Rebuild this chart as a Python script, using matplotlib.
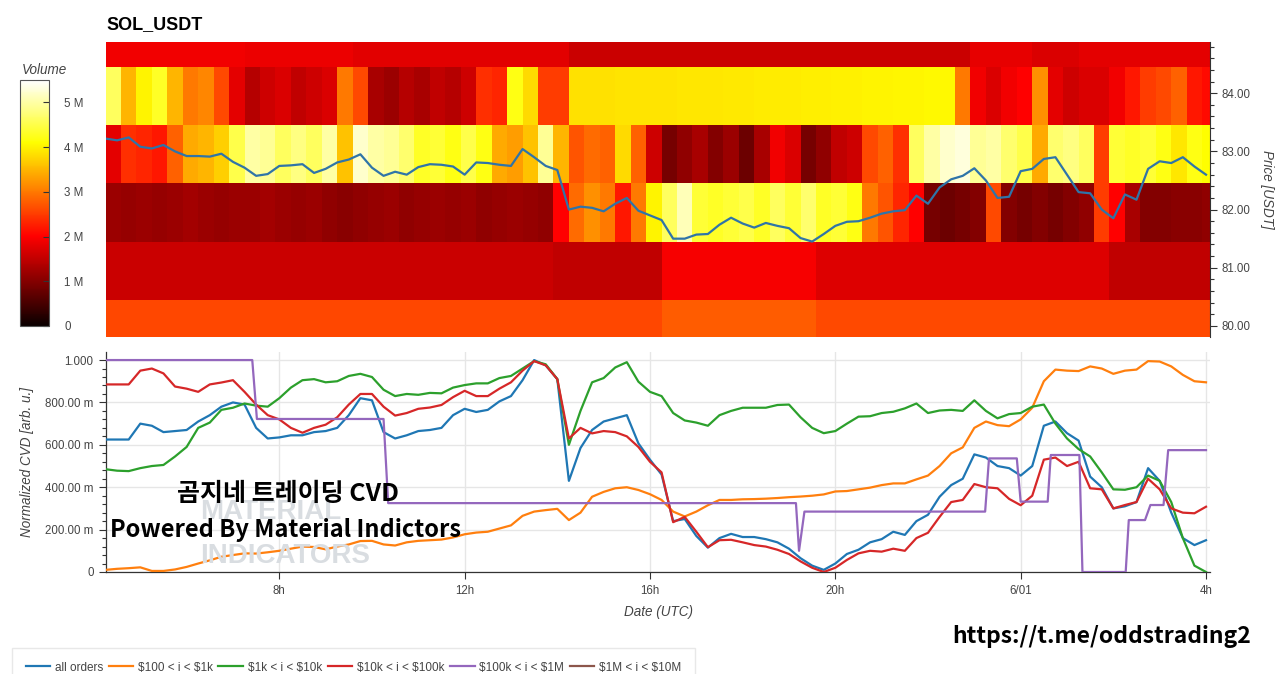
import numpy as np
import pandas as pd
import matplotlib
matplotlib.use("Agg")
import matplotlib.pyplot as plt
import matplotlib.dates as mdates
from matplotlib.ticker import FixedLocator, MultipleLocator

# ---------------- data ----------------
title = "SOL_USDT"
start_time = "2024-05-31 04:15"
view_start = "2024-05-31 04:15:36"
view_end = "2024-06-01 04:05:10"

# heatmap: price levels (USDT) and volume (millions) per 20-minute column
price_levels = [79.95, 80.95, 81.95, 82.95, 83.95, 84.95]
vol_7995 = [2.58] * 36 + [2.75] * 10 + [2.6] * 26
vol_8095 = [1.57] * 29 + [1.5] * 7 + [1.95] * 10 + [1.72] * 19 + [1.5] * 7
vol_8195 = [1.2, 1.15, 1.2, 1.15, 1.2, 1.25, 1.2, 1.15, 1.2, 1.2, 1.25, 1.2, 1.15, 1.2, 1.1,
            1.05, 1.1, 1.15, 1.2, 1.1, 1.15, 1.2, 1.15, 1.2, 1.1, 1.15, 1.2, 1.15, 1.1,
            2.0, 2.9, 3.2, 3.0, 2.2, 3.0, 4.0, 4.6, 5.1, 4.4, 4.3, 4.4, 4.5, 4.3, 4.6, 4.4,
            4.7, 4.3, 4.4, 4.2, 3.0, 2.7, 2.3, 2.0, 0.9, 0.8, 0.9, 1.0, 2.6, 1.0, 0.9, 1.0,
            0.9, 1.0, 1.1, 2.5, 2.0, 1.3, 1.0, 1.0, 1.05, 1.05, 1.1]
vol_8295 = [1.8, 2.4, 2.3, 2.2, 2.8, 3.4, 3.5, 3.7, 4.5, 5.0, 4.9, 4.6, 4.8, 4.6, 5.0,
            3.6, 5.2, 5.0, 4.9, 4.7, 4.3, 4.4, 4.2, 4.5, 4.2, 3.4, 3.3, 3.6, 4.9, 3.5,
            2.7, 2.9, 2.8, 3.8, 2.8, 1.6, 0.9, 1.1, 1.3, 1.0, 1.2, 0.8, 1.3, 1.9, 1.7,
            0.9, 1.1, 1.5, 1.6, 2.6, 2.8, 2.4, 4.6, 5.0, 5.2, 5.3, 4.9, 5.0, 4.7, 4.5,
            3.4, 4.7, 4.8, 4.6, 2.5, 4.4, 4.3, 4.4, 4.2, 3.9, 4.2, 4.1]
vol_8395 = [4.6, 3.5, 4.0, 4.3, 3.5, 3.0, 3.1, 2.6, 1.8, 1.4, 1.6, 1.7, 1.5, 1.6, 1.7,
            3.0, 2.6, 1.3, 1.2, 1.4, 1.3, 1.5, 1.4, 1.6, 2.4, 2.3, 4.2, 3.8, 2.5, 2.5,
            3.85, 3.85, 3.85, 3.87, 3.87, 3.88, 3.88, 3.9, 3.9, 3.9, 3.92, 3.92, 3.94,
            3.94, 3.95, 3.96, 3.97, 3.98, 3.99, 4.0, 4.0, 4.02, 4.03, 4.04, 4.05, 3.0,
            1.9, 1.7, 1.9, 2.0, 3.2, 1.8, 1.6, 1.7, 1.7, 1.9, 2.2, 2.5, 2.6, 2.8, 2.2, 2.1]
vol_8495 = [1.9] * 9 + [1.85] * 7 + [1.78] * 14 + [1.58] * 26 + [1.82] * 4 + [1.7] * 3 + [1.8] * 9

# price line (USDT), every 15 minutes
price = [83.22, 83.19, 83.24, 83.08, 83.05, 83.11, 83.00, 82.92, 82.92, 82.91, 82.96, 82.82,
         82.72, 82.58, 82.61, 82.75, 82.76, 82.78, 82.63, 82.70, 82.81, 82.86, 82.95, 82.72,
         82.58, 82.65, 82.60, 82.73, 82.78, 82.77, 82.74, 82.60, 82.81, 82.80, 82.77, 82.75,
         83.04, 82.90, 82.75, 82.68, 82.00, 82.05, 82.03, 81.97, 82.10, 82.20, 81.98, 81.90,
         81.82, 81.50, 81.50, 81.57, 81.58, 81.74, 81.86, 81.76, 81.69, 81.77, 81.72, 81.68,
         81.51, 81.45, 81.58, 81.72, 81.79, 81.80, 81.86, 81.93, 81.97, 81.99, 82.24, 82.10,
         82.38, 82.52, 82.58, 82.71, 82.50, 82.20, 82.22, 82.66, 82.70, 82.87, 82.90, 82.60,
         82.30, 82.28, 82.00, 81.85, 82.26, 82.17, 82.70, 82.83, 82.80, 82.90, 82.74, 82.60]

# normalized CVD, every 15 minutes
cvd_all = [0.625, 0.625, 0.625, 0.70, 0.69, 0.66, 0.665, 0.67, 0.71, 0.74, 0.78, 0.80,
           0.79, 0.68, 0.63, 0.635, 0.645, 0.645, 0.66, 0.665, 0.68, 0.74, 0.82, 0.81,
           0.66, 0.63, 0.645, 0.665, 0.67, 0.68, 0.74, 0.77, 0.755, 0.765, 0.805, 0.83,
           0.905, 1.0, 0.975, 0.91, 0.43, 0.585, 0.67, 0.71, 0.725, 0.74, 0.607, 0.53,
           0.46, 0.24, 0.25, 0.17, 0.115, 0.16, 0.18, 0.165, 0.165, 0.155, 0.14, 0.11,
           0.065, 0.03, 0.01, 0.04, 0.085, 0.105, 0.14, 0.155, 0.19, 0.175, 0.24, 0.27,
           0.355, 0.41, 0.44, 0.555, 0.54, 0.50, 0.49, 0.455, 0.50, 0.69, 0.71, 0.655,
           0.62, 0.45, 0.40, 0.30, 0.31, 0.33, 0.49, 0.43, 0.28, 0.16, 0.127, 0.15]
cvd_100_1k = [0.01, 0.015, 0.018, 0.022, 0.005, 0.005, 0.012, 0.024, 0.04, 0.055, 0.072, 0.08,
              0.088, 0.087, 0.093, 0.10, 0.11, 0.12, 0.118, 0.107, 0.12, 0.13, 0.146, 0.147,
              0.13, 0.125, 0.14, 0.147, 0.15, 0.153, 0.163, 0.178, 0.186, 0.19, 0.205, 0.22,
              0.265, 0.285, 0.292, 0.298, 0.245, 0.28, 0.355, 0.378, 0.395, 0.40, 0.387, 0.367,
              0.34, 0.285, 0.262, 0.285, 0.315, 0.34, 0.34, 0.343, 0.344, 0.346, 0.349, 0.353,
              0.356, 0.36, 0.366, 0.38, 0.382, 0.39, 0.398, 0.41, 0.418, 0.418, 0.437, 0.455,
              0.50, 0.56, 0.588, 0.68, 0.71, 0.693, 0.688, 0.72, 0.775, 0.90, 0.955, 0.95,
              0.948, 0.97, 0.96, 0.935, 0.95, 0.955, 0.995, 0.993, 0.97, 0.93, 0.90, 0.895]
cvd_1k_10k = [0.485, 0.478, 0.476, 0.49, 0.50, 0.505, 0.545, 0.59, 0.68, 0.705, 0.765, 0.775,
              0.795, 0.785, 0.78, 0.82, 0.87, 0.905, 0.91, 0.895, 0.90, 0.925, 0.935, 0.92,
              0.86, 0.83, 0.84, 0.836, 0.845, 0.843, 0.87, 0.882, 0.89, 0.89, 0.915, 0.925,
              0.96, 0.995, 0.98, 0.91, 0.60, 0.76, 0.895, 0.915, 0.965, 0.99, 0.898, 0.85,
              0.83, 0.75, 0.715, 0.705, 0.69, 0.74, 0.76, 0.775, 0.775, 0.775, 0.788, 0.79,
              0.73, 0.68, 0.655, 0.665, 0.70, 0.733, 0.735, 0.75, 0.756, 0.772, 0.795, 0.75,
              0.762, 0.765, 0.76, 0.81, 0.76, 0.725, 0.745, 0.75, 0.78, 0.79, 0.70, 0.63,
              0.58, 0.545, 0.47, 0.39, 0.388, 0.40, 0.455, 0.43, 0.33, 0.16, 0.03, 0.0]
cvd_10k_100k = [0.885, 0.885, 0.885, 0.95, 0.96, 0.937, 0.875, 0.865, 0.85, 0.885, 0.894, 0.905,
                0.85, 0.79, 0.74, 0.72, 0.68, 0.657, 0.68, 0.695, 0.73, 0.79, 0.84, 0.84,
                0.78, 0.738, 0.75, 0.77, 0.776, 0.788, 0.825, 0.855, 0.83, 0.83, 0.865, 0.895,
                0.95, 0.995, 0.975, 0.91, 0.63, 0.68, 0.654, 0.665, 0.66, 0.64, 0.59, 0.52,
                0.47, 0.235, 0.26, 0.19, 0.117, 0.15, 0.152, 0.14, 0.127, 0.12, 0.105, 0.085,
                0.05, 0.02, 0.0, 0.02, 0.057, 0.088, 0.10, 0.096, 0.11, 0.10, 0.16, 0.185,
                0.26, 0.33, 0.34, 0.415, 0.40, 0.395, 0.345, 0.315, 0.36, 0.53, 0.54, 0.50,
                0.52, 0.395, 0.39, 0.30, 0.316, 0.33, 0.44, 0.39, 0.30, 0.28, 0.277, 0.308]
# $100k < i < $1M is a step series: change-point times and values
cvd_100k_1m_times = ["2024-05-31 04:15", "2024-05-31 07:25", "2024-05-31 07:31", "2024-05-31 10:15",
                     "2024-05-31 10:21", "2024-05-31 19:09", "2024-05-31 19:13", "2024-05-31 19:20",
                     "2024-05-31 23:14", "2024-05-31 23:19", "2024-05-31 23:55", "2024-06-01 00:00",
                     "2024-06-01 00:35", "2024-06-01 00:39", "2024-06-01 01:16", "2024-06-01 01:20",
                     "2024-06-01 02:16", "2024-06-01 02:20", "2024-06-01 02:41", "2024-06-01 02:48",
                     "2024-06-01 03:05", "2024-06-01 03:11", "2024-06-01 04:00"]
cvd_100k_1m = [1.0, 1.0, 0.722, 0.722, 0.325, 0.325, 0.10, 0.285, 0.285, 0.536, 0.536, 0.332,
               0.332, 0.552, 0.552, 0.0, 0.0, 0.245, 0.245, 0.316, 0.316, 0.575, 0.575]
cvd_1m_10m = []  # no visible data

series_labels = ["all orders", "$100 < i < $1k", "$1k < i < $10k", "$10k < i < $100k",
                 "$100k < i < $1M", "$1M < i < $10M"]
series_colors = ["#1f77b4", "#ff7f0e", "#2ca02c", "#d62728", "#9467bd", "#8c564b"]

cvd_ticks = [0.0, 0.2, 0.4, 0.6, 0.8, 1.0]
cvd_tick_labels = ["0", "200.00 m", "400.00 m", "600.00 m", "800.00 m", "1.000"]
time_ticks = ["2024-05-31 08:00", "2024-05-31 12:00", "2024-05-31 16:00", "2024-05-31 20:00",
              "2024-06-01 00:00", "2024-06-01 04:00"]
time_tick_labels = ["8h", "12h", "16h", "20h", "6/01", "4h"]
price_ticks = [80.0, 81.0, 82.0, 83.0, 84.0]
vol_ticks = [0, 1, 2, 3, 4, 5]
vol_tick_labels = ["0", "1 M", "2 M", "3 M", "4 M", "5 M"]

# ---------------- figure ----------------
W, H = 1280, 674
fig = plt.figure(figsize=(W / 100, H / 100), dpi=100)
fig.patch.set_facecolor("white")

def fx(px):
    return px / W

def fy(py):
    return 1 - py / H

TICK_FONT = "Liberation Sans"
TCOL = "#444444"

cvd_times = pd.date_range(start_time, periods=len(cvd_all), freq="15min")
heat_edges = pd.date_range(start_time, periods=len(vol_8395) + 1, freq="20min")
xlim = (mdates.date2num(pd.Timestamp(view_start)), mdates.date2num(pd.Timestamp(view_end)))

# ---- heatmap ----
ax_h = fig.add_axes([fx(106), fy(337), fx(1210) - fx(106), fy(42) - fy(337)])
heat = np.array([vol_7995, vol_8095, vol_8195, vol_8295, vol_8395, vol_8495])
yedges = [p - 0.5 for p in price_levels] + [price_levels[-1] + 0.5]
mesh = ax_h.pcolormesh(mdates.date2num(heat_edges), yedges, heat, cmap="hot",
                       vmin=0, vmax=5.5, shading="flat", edgecolors="none", antialiased=False)
ax_h.plot(mdates.date2num(cvd_times), price, color="#2f74a8", lw=1.6, zorder=3)
ax_h.set_xlim(*xlim)
ax_h.set_ylim(79.81, 84.88)
ax_h.set_xticks([])
ax_h.yaxis.tick_right()
ax_h.yaxis.set_label_position("right")
ax_h.yaxis.set_major_locator(FixedLocator(price_ticks))
ax_h.yaxis.set_minor_locator(MultipleLocator(0.2))
ax_h.set_yticklabels([f"{p:.2f}" for p in price_ticks])
ax_h.tick_params(axis="y", which="major", direction="out", length=5, width=0.8,
                 labelsize=8.3, labelcolor=TCOL, pad=3, colors="#333333")
ax_h.tick_params(axis="y", which="minor", direction="out", length=3, width=0.8, colors="#333333")
for lab in ax_h.get_yticklabels():
    lab.set_fontfamily(TICK_FONT)
    lab.set_color(TCOL)
for s in ["left", "top", "bottom"]:
    ax_h.spines[s].set_visible(False)
ax_h.spines["right"].set_color("#333333")
ax_h.set_ylabel("Price [USDT]", rotation=270, fontstyle="italic", fontsize=9.75,
                color=TCOL, fontfamily=TICK_FONT, labelpad=17)

fig.text(fx(106), fy(25), title, fontsize=13, fontweight="bold", fontfamily=TICK_FONT,
         ha="left", va="center", color="black")

# ---- colorbar ----
cax = fig.add_axes([fx(20), fy(326), fx(49) - fx(20), fy(80) - fy(326)])
cb = fig.colorbar(mesh, cax=cax)
cb.set_ticks(vol_ticks)
cb.set_ticklabels(vol_tick_labels)
cb.outline.set_edgecolor("#555555")
cb.outline.set_linewidth(0.8)
cax.tick_params(direction="in", length=4, width=0.8, colors="#333333", labelsize=8.3,
                labelcolor=TCOL, pad=11)
for lab in cax.get_yticklabels():
    lab.set_fontfamily(TICK_FONT)
    lab.set_color(TCOL)
fig.text(fx(22), fy(70), "Volume", fontstyle="italic", fontsize=9.75, color=TCOL,
         fontfamily=TICK_FONT, ha="left", va="center")

# ---- CVD ----
ax_c = fig.add_axes([fx(106), fy(572), fx(1210) - fx(106), fy(352) - fy(572)])
ax_c.set_axisbelow(True)

def esc(s):
    return s.replace("$", r"\$")

cvd_series = [cvd_all, cvd_100_1k, cvd_1k_10k, cvd_10k_100k]
handles = []
for vals, lab, col in zip(cvd_series, series_labels[:4], series_colors[:4]):
    h, = ax_c.plot(mdates.date2num(cvd_times), vals, color=col, lw=1.6, label=esc(lab), zorder=3)
    handles.append(h)
h, = ax_c.plot(mdates.date2num(pd.to_datetime(cvd_100k_1m_times)), cvd_100k_1m,
               color=series_colors[4], lw=1.6, label=esc(series_labels[4]), zorder=3)
handles.append(h)
h, = ax_c.plot(cvd_1m_10m, cvd_1m_10m, color=series_colors[5], lw=1.6,
               label=esc(series_labels[5]))
handles.append(h)

ax_c.set_xlim(*xlim)
ax_c.set_ylim(0, 1.038)
ax_c.yaxis.set_major_locator(FixedLocator(cvd_ticks))
ax_c.yaxis.set_minor_locator(MultipleLocator(0.04))
ax_c.set_yticklabels(cvd_tick_labels)
tt = mdates.date2num(pd.to_datetime(time_ticks))
ax_c.xaxis.set_major_locator(FixedLocator(tt))
ax_c.set_xticklabels(time_tick_labels)
ax_c.grid(True, which="major", color="#e6e6e6", lw=1)
ax_c.tick_params(axis="both", which="major", direction="out", length=5, width=0.8,
                 colors="#333333", labelsize=8.3, labelcolor=TCOL, pad=4)
ax_c.tick_params(axis="y", which="minor", direction="out", length=3, width=0.8, colors="#333333")
for lab in ax_c.get_yticklabels() + ax_c.get_xticklabels():
    lab.set_fontfamily(TICK_FONT)
    lab.set_color(TCOL)
for s in ["top", "right"]:
    ax_c.spines[s].set_visible(False)
for s in ["left", "bottom"]:
    ax_c.spines[s].set_color("#333333")
    ax_c.spines[s].set_linewidth(0.9)
ax_c.set_ylabel("Normalized CVD [arb. u.]", fontstyle="italic", fontsize=9.75, color=TCOL,
                fontfamily=TICK_FONT, labelpad=8)
ax_c.set_xlabel("Date (UTC)", fontstyle="italic", fontsize=9.75, color=TCOL,
                fontfamily=TICK_FONT, labelpad=6)

# watermark (faint, behind the lines)
fig.text(fx(200), fy(512), "MATERIAL", fontsize=20, fontweight="bold", color="#d9dde1",
         fontfamily=TICK_FONT, ha="left", va="center", zorder=1)
fig.text(fx(200), fy(556), "INDICATORS", fontsize=20, fontweight="bold", color="#d9dde1",
         fontfamily=TICK_FONT, ha="left", va="center", zorder=1)

# overlay texts
KFONT = ["Noto Sans CJK KR", "DejaVu Sans"]
fig.text(fx(288), fy(494), "곰지네 트레이딩 CVD", fontsize=18, fontweight="bold",
         family=KFONT, ha="center", va="center", color="black", zorder=10)
fig.text(fx(286), fy(530), "Powered By Material Indictors", fontsize=17, fontweight="bold",
         family=KFONT, ha="center", va="center", color="black", zorder=10)
fig.text(fx(1102), fy(637), "https://t.me/oddstrading2", fontsize=16.5, fontweight="bold",
         family=KFONT, ha="center", va="center", color="black", zorder=10)

# legend
leg = fig.legend(handles, [h.get_label() for h in handles], loc="upper left",
                 bbox_to_anchor=(fx(12), fy(648)),
                 ncol=6, frameon=True, fancybox=False, edgecolor="#e3e3e3",
                 prop={"family": TICK_FONT, "size": 8.5}, borderpad=1.15, handlelength=2.1,
                 handletextpad=0.4, columnspacing=0.45, borderaxespad=0)
for t in leg.get_texts():
    t.set_color(TCOL)

fig.savefig("out.png", dpi=100)
